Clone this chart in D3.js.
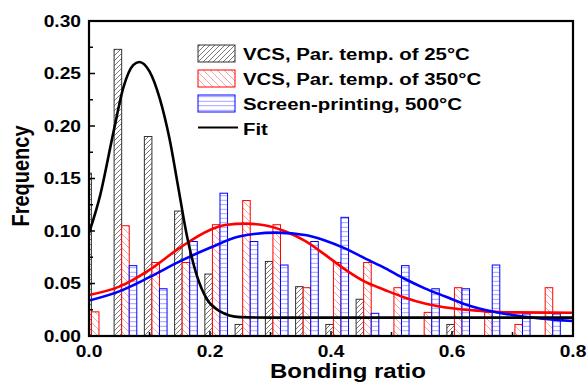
<!DOCTYPE html>
<html>
<head>
<meta charset="utf-8">
<script src="https://cdn.jsdelivr.net/npm/d3@7"></script>
<style>
  html, body { margin: 0; padding: 0; background: #fff; }
  svg { display: block; }
  text { font-family: "Liberation Sans", Arial, sans-serif; font-weight: bold; fill: #000; }
</style>
</head>
<body>
<svg id="chart" width="587" height="382"></svg>
<script>
// ---------------- data ----------------
const bins = [0.00, 0.05, 0.10, 0.15, 0.20, 0.25, 0.30, 0.35, 0.40, 0.45, 0.50, 0.55, 0.60, 0.65, 0.70, 0.75];
const vcs25  = [0.155, 0.273, 0.190, 0.119, 0.059, 0.011, 0.071, 0.047, 0.011, 0.035, 0.000, 0.000, 0.011, 0.000, 0.000, 0.000];
const vcs350 = [0.023, 0.105, 0.070, 0.070, 0.106, 0.129, 0.106, 0.046, 0.070, 0.070, 0.046, 0.0225, 0.046, 0.0225, 0.011, 0.046];
const screen500 = [0.000, 0.067, 0.045, 0.090, 0.136, 0.090, 0.0676, 0.090, 0.113, 0.0216, 0.067, 0.045, 0.045, 0.0676, 0.021, 0.021];

const fit25X = [0, 0.018, 0.04, 0.057, 0.073, 0.083, 0.10, 0.117, 0.133, 0.148, 0.162, 0.178, 0.195, 0.215, 0.25, 0.30, 0.80];
const fit25Y = [0.098, 0.133, 0.193, 0.237, 0.258, 0.261, 0.252, 0.226, 0.188, 0.140, 0.095, 0.058, 0.035, 0.024, 0.018, 0.0175, 0.0175];

const fit350X = [0, 0.05, 0.10, 0.15, 0.20, 0.225, 0.26, 0.29, 0.325, 0.357, 0.39, 0.423, 0.456, 0.49, 0.52, 0.555, 0.60, 0.643, 0.70, 0.80];
const fit350Y = [0.039, 0.047, 0.063, 0.084, 0.101, 0.1057, 0.107, 0.1055, 0.0995, 0.0905, 0.0775, 0.0635, 0.0517, 0.0436, 0.037, 0.031, 0.0264, 0.0241, 0.0225, 0.0222];

const fit500X = [0, 0.05, 0.10, 0.15, 0.20, 0.25, 0.31, 0.36, 0.39, 0.423, 0.456, 0.49, 0.52, 0.555, 0.59, 0.62, 0.655, 0.70, 0.745, 0.80];
const fit500Y = [0.0337, 0.0425, 0.056, 0.071, 0.084, 0.095, 0.0985, 0.096, 0.091, 0.0835, 0.074, 0.0644, 0.055, 0.0454, 0.0374, 0.0305, 0.0248, 0.020, 0.0168, 0.0143];

const seriesNames = ["VCS, Par. temp. of 25\u00B0C", "VCS, Par. temp. of 350\u00B0C", "Screen-printing, 500\u00B0C"];
const fitName = "Fit";
const xTicks = [0.0, 0.2, 0.4, 0.6, 0.8];
const xMinorTicks = [0.1, 0.3, 0.5, 0.7];
const yTicks = [0.00, 0.05, 0.10, 0.15, 0.20, 0.25, 0.30];
const yMinorTicks = [0.025, 0.075, 0.125, 0.175, 0.225, 0.275];
const xTitle = "Bonding ratio";
const yTitle = "Frequency";

// ---------------- layout ----------------
const L = 89, R = 573, T = 21, B = 336;
const SX = 1.2; // horizontal text stretch seen in the reference
const x = d3.scaleLinear().domain([0, 0.8]).range([L, R]);
const y = d3.scaleLinear().domain([0, 0.30]).range([B, T]);

const svg = d3.select("#chart");
const defs = svg.append("defs");

defs.append("clipPath").attr("id", "plotClip")
  .append("rect").attr("x", L).attr("y", T).attr("width", R - L).attr("height", B - T);

function hatch(id, spacing, color, kind) {
  const p = defs.append("pattern").attr("id", id)
    .attr("patternUnits", "userSpaceOnUse")
    .attr("width", spacing).attr("height", spacing);
  p.append("rect").attr("width", spacing).attr("height", spacing).attr("fill", "#fff");
  const s = spacing;
  let paths;
  if (kind === "fwd") paths = `M0,${s} L${s},0 M${-s/2},${s/2} L${s/2},${-s/2} M${s/2},${s*1.5} L${s*1.5},${s/2}`;
  else if (kind === "back") paths = `M0,0 L${s},${s} M${-s/2},${s/2} L${s/2},${s*1.5} M${s/2},${-s/2} L${s*1.5},${s/2}`;
  else paths = `M0,${s/2} L${s},${s/2}`;
  p.append("path").attr("d", paths).attr("stroke", color).attr("stroke-width", 0.8).attr("fill", "none");
}
hatch("hBlack", 5, "#555", "fwd");
hatch("hRed", 7, "#f28a8a", "back");
hatch("hBlue", 4.5, "#8a8aff", "horiz");

const styles = [
  { fill: "url(#hBlack)", stroke: "#333" },
  { fill: "url(#hRed)", stroke: "#ff0000" },
  { fill: "url(#hBlue)", stroke: "#0000ff" }
];
const barW = 0.0125;
const groupStart = -0.0085;
const allSeries = [vcs25, vcs350, screen500];

const plot = svg.append("g").attr("clip-path", "url(#plotClip)");

allSeries.forEach((vals, si) => {
  const data = bins.map((b, i) => ({ b, v: vals[i] })).filter(d => d.v > 0);
  plot.append("g").selectAll("rect").data(data).join("rect")
    .attr("x", d => x(d.b + groupStart + si * barW))
    .attr("width", d => x(d.b + groupStart + (si + 1) * barW) - x(d.b + groupStart + si * barW))
    .attr("y", d => y(d.v))
    .attr("height", d => y(0) - y(d.v))
    .attr("fill", styles[si].fill)
    .attr("stroke", styles[si].stroke)
    .attr("stroke-width", 1);
});

// fit curves
const line = d3.line().x(d => x(d[0])).y(d => y(d[1])).curve(d3.curveMonotoneX);
const fits = [
  { X: fit350X, Y: fit350Y, c: "#ff0000" },
  { X: fit500X, Y: fit500Y, c: "#0000ff" },
  { X: fit25X, Y: fit25Y, c: "#000" }
];
fits.forEach(f => {
  plot.append("path").datum(f.X.map((v, i) => [v, f.Y[i]]))
    .attr("d", line).attr("fill", "none").attr("stroke", f.c).attr("stroke-width", 2.6);
});

// frame
svg.append("rect").attr("x", L).attr("y", T).attr("width", R - L).attr("height", B - T)
  .attr("fill", "none").attr("stroke", "#000").attr("stroke-width", 2.2);

// ticks (inward)
const tg = svg.append("g").attr("stroke", "#000").attr("stroke-width", 1.5);
xTicks.forEach(t => tg.append("line").attr("x1", x(t)).attr("x2", x(t)).attr("y1", B).attr("y2", B - 5));
xMinorTicks.forEach(t => tg.append("line").attr("x1", x(t)).attr("x2", x(t)).attr("y1", B).attr("y2", B - 4));
yTicks.forEach(t => tg.append("line").attr("x1", L).attr("x2", L + 6).attr("y1", y(t)).attr("y2", y(t)));
yMinorTicks.forEach(t => tg.append("line").attr("x1", L).attr("x2", L + 4).attr("y1", y(t)).attr("y2", y(t)));

function stext(px, py, str, size, anchor, extra) {
  return svg.append("text")
    .attr("transform", `translate(${px},${py}) scale(${SX},1)` + (extra || ""))
    .attr("text-anchor", anchor).attr("font-size", size).text(str);
}

// tick labels
const fmt = d3.format(".2f"), fmtx = d3.format(".1f");
yTicks.forEach(t => stext(L - 8, y(t) + 5.7, fmt(t), 16, "end"));
xTicks.forEach(t => stext(x(t), 357, fmtx(t), 16, "middle"));

// titles
stext(348, 378, xTitle, 20, "middle");
stext(29, 176, yTitle, 20, "middle", " rotate(-90)");

// legend
const lgX = 198, lgY = 45, lgStep = 25;
seriesNames.forEach((n, i) => {
  svg.append("rect").attr("x", lgX).attr("y", lgY + i * lgStep).attr("width", 37).attr("height", 17)
    .attr("fill", styles[i].fill).attr("stroke", styles[i].stroke).attr("stroke-width", 1);
  stext(lgX + 45, lgY + i * lgStep + 14.5, n, 17, "start");
});
svg.append("line").attr("x1", lgX).attr("x2", lgX + 40)
  .attr("y1", lgY + 3 * lgStep + 7.5).attr("y2", lgY + 3 * lgStep + 7.5)
  .attr("stroke", "#000").attr("stroke-width", 2.2);
stext(lgX + 45, lgY + 3 * lgStep + 14.5, fitName, 17, "start");
</script>
</body>
</html>
